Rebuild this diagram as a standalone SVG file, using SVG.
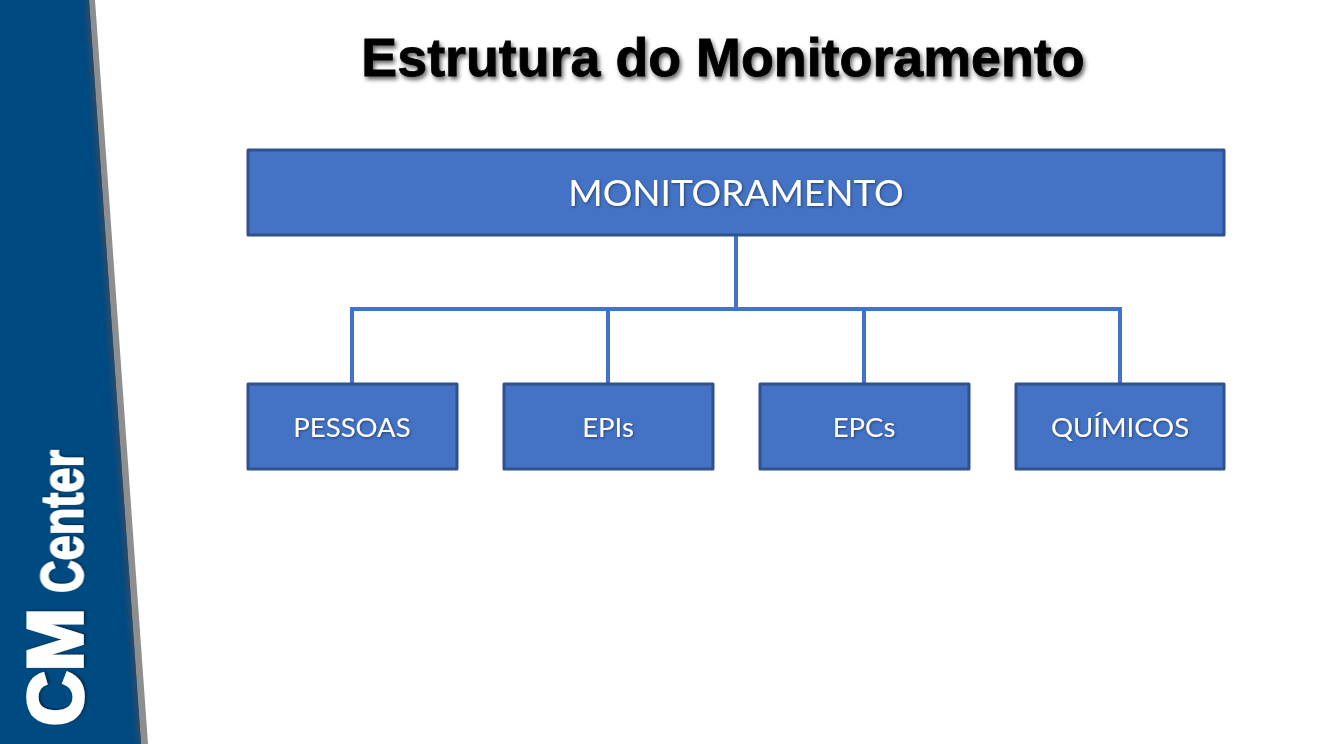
<svg xmlns="http://www.w3.org/2000/svg" width="1323" height="744" viewBox="0 0 1323 744">
<defs>
<filter id="ts" x="-10%" y="-30%" width="120%" height="170%"><feDropShadow dx="2" dy="3" stdDeviation="2" flood-color="#000" flood-opacity="0.6"/></filter>
<filter id="ls" x="-10%" y="-10%" width="130%" height="130%"><feDropShadow dx="1" dy="1" stdDeviation="1" flood-color="#000" flood-opacity="0.45"/></filter>
<filter id="bt" x="-10%" y="-30%" width="120%" height="170%"><feDropShadow dx="1" dy="1" stdDeviation="0.8" flood-color="#1c2f55" flood-opacity="0.7"/></filter>
<filter id="bs" x="-50%" y="-5%" width="200%" height="110%"><feGaussianBlur stdDeviation="2"/></filter>
<clipPath id="blueclip"><polygon points="0,0 89,0 141,744 0,744"/></clipPath>
</defs>
<style>
.box{fill:#4472c4;stroke:#2f528f;stroke-width:3;stroke-linejoin:round}
.lbl{font-family:"Lato","Open Sans",sans-serif;fill:#fff;text-anchor:middle;filter:url(#bt)}
.con{fill:none;stroke:#4472c4;stroke-width:4}
.logo{font-family:"Liberation Sans",Arial,sans-serif;font-weight:700;fill:#fff;stroke:#fff;filter:url(#ls)}
</style>
<rect width="1323" height="744" fill="#fff"/>
<g id="sidebar">
<polygon points="0,0 95,0 148,744 0,744" fill="#8e8e8e"/>
<polygon points="0,0 89,0 141,744 0,744" fill="#004a82"/>
<path d="M88,0L140,744" stroke="#2b4a68" stroke-width="6" fill="none" filter="url(#bs)" clip-path="url(#blueclip)"/>
<text class="logo" transform="translate(82,726) rotate(-90) scale(1,1.75)" font-size="45" stroke-width="2" textLength="118" lengthAdjust="spacingAndGlyphs">CM</text>
<text class="logo" transform="translate(82.5,593) rotate(-90) scale(1,1.18)" font-size="50" stroke-width="1.5" textLength="143" lengthAdjust="spacingAndGlyphs">Center</text>
</g>
<text id="title" x="723" y="76" font-family="Liberation Sans,Arial,sans-serif" font-weight="700" font-size="53.8" text-anchor="middle" fill="#000" stroke="#000" stroke-width="0.8" filter="url(#ts)">Estrutura do Monitoramento</text>
<g id="connectors">
<path class="con" d="M736 235V309"/>
<path class="con" d="M352 384V309H1120V384"/>
<path class="con" d="M608 309V384"/>
<path class="con" d="M864 309V384"/>
</g>
<g id="monitoramento"><rect class="box" x="248" y="150" width="976" height="85"/><text class="lbl" x="736" y="206" font-size="37">MONITORAMENTO</text></g>
<g id="pessoas"><rect class="box" x="248" y="384" width="209" height="85"/><text class="lbl" x="352" y="437" font-size="27.5">PESSOAS</text></g>
<g id="epis"><rect class="box" x="504" y="384" width="209" height="85"/><text class="lbl" x="608" y="437" font-size="27.5">EPIs</text></g>
<g id="epcs"><rect class="box" x="760" y="384" width="209" height="85"/><text class="lbl" x="864" y="437" font-size="27.5">EPCs</text></g>
<g id="quimicos"><rect class="box" x="1016" y="384" width="208" height="85"/><text class="lbl" x="1120" y="437" font-size="27.5">QUÍMICOS</text></g>
</svg>
